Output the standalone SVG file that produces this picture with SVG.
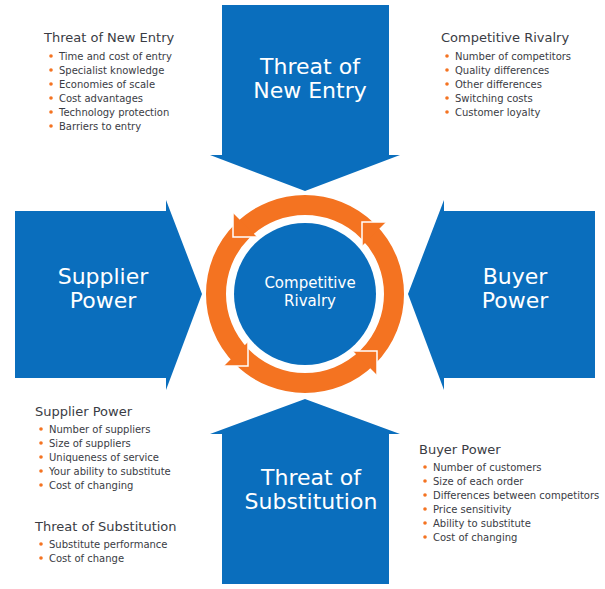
<svg xmlns="http://www.w3.org/2000/svg" width="605" height="589" viewBox="0 0 605 589">
<style>
.blk{fill:#0A6EBD}
.big{font-family:"DejaVu Sans",Verdana,sans-serif;font-size:22px;fill:#fff;text-anchor:middle}
.mid{font-family:"DejaVu Sans",Verdana,sans-serif;font-size:15px;fill:#fff;text-anchor:middle}
.hd{font-family:"DejaVu Sans",Verdana,sans-serif;font-size:13px;fill:#3a3c44}
.it{font-family:"DejaVu Sans",Verdana,sans-serif;font-size:10px;fill:#3a3c44}
.dot{fill:#F47321}
.ah{fill:#F47321}
.leg{fill:none;stroke:#fff;stroke-width:1.5}
</style>
<rect width="605" height="589" fill="#fff"/>

<g id="threat-new-entry">
<polygon class="blk" points="222,5 389,5 389,155 400,155 305,191 210,155 222,155"/>
<text class="big" x="310" y="74">Threat of</text>
<text class="big" x="310" y="98">New Entry</text>
</g>
<g id="supplier-power">
<polygon class="blk" points="15,211 166,211 166,200 202,294 166,390 166,378 15,378"/>
<text class="big" x="103" y="284">Supplier</text>
<text class="big" x="103" y="308">Power</text>
</g>
<g id="buyer-power">
<polygon class="blk" points="595,211 444,211 444,200 408,294 444,390 444,378 595,378"/>
<text class="big" x="515" y="284">Buyer</text>
<text class="big" x="515" y="308">Power</text>
</g>
<g id="threat-substitution">
<polygon class="blk" points="222,584 389,584 389,434 400,434 305,399 210,434 222,434"/>
<text class="big" x="311" y="485">Threat of</text>
<text class="big" x="311" y="509">Substitution</text>
</g>

<g id="connectors">
<circle cx="305" cy="294" r="89" fill="none" stroke="#F47321" stroke-width="20"/>
<polygon class="ah" points="233,213 233,237 257,237"/>
<polyline class="leg" points="233,213 233,237 257,237"/>
<polygon class="ah" points="386,222 362,222 362,246"/>
<polyline class="leg" points="386,222 362,222 362,246"/>
<polygon class="ah" points="377,375 377,351 353,351"/>
<polyline class="leg" points="377,375 377,351 353,351"/>
<polygon class="ah" points="224,366 248,366 248,342"/>
<polyline class="leg" points="224,366 248,366 248,342"/>
</g>

<g id="competitive-rivalry">
<circle cx="305" cy="294" r="71" class="blk"/>
<text class="mid" x="310" y="288">Competitive</text>
<text class="mid" x="310" y="306">Rivalry</text>
</g>

<g id="list-new-entry">
<text class="hd" x="44" y="42">Threat of New Entry</text>
<circle class="dot" cx="51" cy="56" r="1.8"/><text class="it" x="59" y="60">Time and cost of entry</text>
<circle class="dot" cx="51" cy="70" r="1.8"/><text class="it" x="59" y="74">Specialist knowledge</text>
<circle class="dot" cx="51" cy="84" r="1.8"/><text class="it" x="59" y="88">Economies of scale</text>
<circle class="dot" cx="51" cy="98" r="1.8"/><text class="it" x="59" y="102">Cost advantages</text>
<circle class="dot" cx="51" cy="112" r="1.8"/><text class="it" x="59" y="116">Technology protection</text>
<circle class="dot" cx="51" cy="126" r="1.8"/><text class="it" x="59" y="130">Barriers to entry</text>
</g>

<g id="list-rivalry">
<text class="hd" x="441" y="42">Competitive Rivalry</text>
<circle class="dot" cx="447" cy="56" r="1.8"/><text class="it" x="455" y="60">Number of competitors</text>
<circle class="dot" cx="447" cy="70" r="1.8"/><text class="it" x="455" y="74">Quality differences</text>
<circle class="dot" cx="447" cy="84" r="1.8"/><text class="it" x="455" y="88">Other differences</text>
<circle class="dot" cx="447" cy="98" r="1.8"/><text class="it" x="455" y="102">Switching costs</text>
<circle class="dot" cx="447" cy="112" r="1.8"/><text class="it" x="455" y="116">Customer loyalty</text>
</g>

<g id="list-supplier">
<text class="hd" x="35" y="416">Supplier Power</text>
<circle class="dot" cx="41" cy="429" r="1.8"/><text class="it" x="49" y="433">Number of suppliers</text>
<circle class="dot" cx="41" cy="443" r="1.8"/><text class="it" x="49" y="447">Size of suppliers</text>
<circle class="dot" cx="41" cy="457" r="1.8"/><text class="it" x="49" y="461">Uniqueness of service</text>
<circle class="dot" cx="41" cy="471" r="1.8"/><text class="it" x="49" y="475">Your ability to substitute</text>
<circle class="dot" cx="41" cy="485" r="1.8"/><text class="it" x="49" y="489">Cost of changing</text>
</g>

<g id="list-substitution">
<text class="hd" x="35" y="531">Threat of Substitution</text>
<circle class="dot" cx="41" cy="544" r="1.8"/><text class="it" x="49" y="548">Substitute performance</text>
<circle class="dot" cx="41" cy="558" r="1.8"/><text class="it" x="49" y="562">Cost of change</text>
</g>

<g id="list-buyer">
<text class="hd" x="419" y="454">Buyer Power</text>
<circle class="dot" cx="425" cy="467" r="1.8"/><text class="it" x="433" y="471">Number of customers</text>
<circle class="dot" cx="425" cy="481" r="1.8"/><text class="it" x="433" y="485">Size of each order</text>
<circle class="dot" cx="425" cy="495" r="1.8"/><text class="it" x="433" y="499">Differences between competitors</text>
<circle class="dot" cx="425" cy="509" r="1.8"/><text class="it" x="433" y="513">Price sensitivity</text>
<circle class="dot" cx="425" cy="523" r="1.8"/><text class="it" x="433" y="527">Ability to substitute</text>
<circle class="dot" cx="425" cy="537" r="1.8"/><text class="it" x="433" y="541">Cost of changing</text>
</g>
</svg>
